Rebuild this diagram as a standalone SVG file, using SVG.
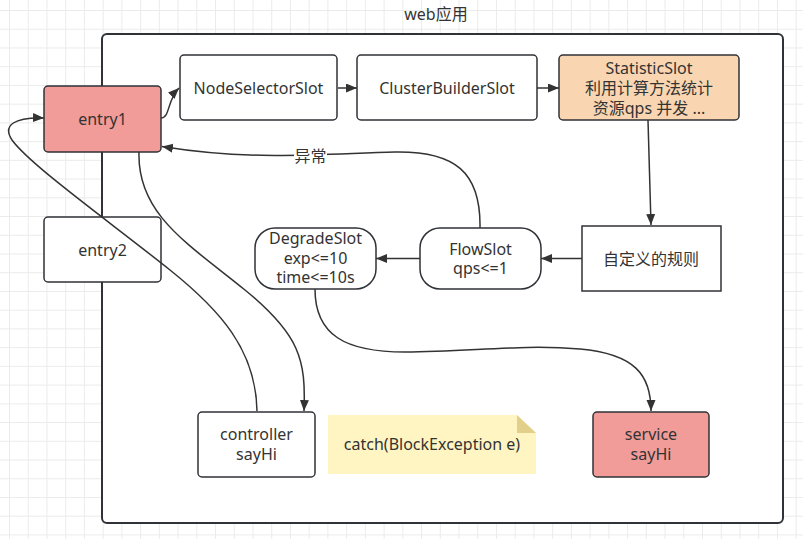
<svg xmlns="http://www.w3.org/2000/svg" width="803" height="539" viewBox="0 0 803 539">
  <defs>
    <pattern id="grid" x="9" y="10" width="18.73" height="18.73" patternUnits="userSpaceOnUse">
      <path d="M0.5,0 V18.73 M0,0.5 H18.73" stroke="#ebebeb" stroke-width="1" fill="none"/>
    </pattern>
    <marker id="arr" markerUnits="userSpaceOnUse" markerWidth="12" markerHeight="10" refX="11" refY="4.5" orient="auto">
      <path d="M0,0 L11,4.5 L0,9 Z" fill="#333"/>
    </marker>
    <style>
      .box { stroke: #2f3237; stroke-width: 1.5; }
      .plain { fill: #ffffff; }
      .red { fill: #f19c99; }
      .peach { fill: #f9d6b1; }
      .lbl { font-family: "Noto Sans", "Noto Sans CJK SC", sans-serif; font-size: 16px; fill: #333; text-anchor: middle; }
      .edge { fill: none; stroke: #333; stroke-width: 1.5; marker-end: url(#arr); }
    </style>
  </defs>

  <!-- canvas background with grid -->
  <rect width="803" height="539" fill="#ffffff"/>
  <rect width="803" height="539" fill="url(#grid)"/>

  <!-- web application container -->
  <g id="container">
    <rect x="102" y="34" width="681" height="489" rx="5" fill="#ffffff" stroke="#2f3237" stroke-width="2"/>
    <text class="lbl" x="436" y="19.5">web应用</text>
  </g>

  <g id="entry2">
    <rect class="box plain" x="44" y="217" width="117" height="65" rx="4"/>
    <text class="lbl" x="102.5" y="255.5">entry2</text>
  </g>

  <g id="entry1">
    <rect class="box red" x="44" y="86" width="117" height="66" rx="4"/>
    <text class="lbl" x="102.5" y="124.5">entry1</text>
  </g>

  <g id="nodeSelectorSlot">
    <rect class="box plain" x="180" y="55" width="157" height="65" rx="4"/>
    <text class="lbl" x="258.5" y="93.5">NodeSelectorSlot</text>
  </g>

  <g id="clusterBuilderSlot">
    <rect class="box plain" x="357" y="55" width="180" height="65" rx="4"/>
    <text class="lbl" x="447" y="93.5">ClusterBuilderSlot</text>
  </g>

  <g id="statisticSlot">
    <rect class="box peach" x="559" y="55" width="180" height="65" rx="4"/>
    <text class="lbl" x="649" y="73.5">StatisticSlot</text>
    <text class="lbl" x="649" y="93.5">利用计算方法统计</text>
    <text class="lbl" x="649" y="113.5">资源qps 并发 ...</text>
  </g>

  <g id="customRules">
    <rect class="box plain" x="582" y="226" width="139" height="65"/>
    <text class="lbl" x="651" y="264.5">自定义的规则</text>
  </g>

  <g id="flowSlot">
    <rect class="box plain" x="420" y="228" width="121" height="61" rx="20" ry="20"/>
    <text class="lbl" x="480.5" y="254.5">FlowSlot</text>
    <text class="lbl" x="480.5" y="274">qps&lt;=1</text>
  </g>

  <g id="degradeSlot">
    <rect class="box plain" x="255" y="228" width="121" height="61" rx="20" ry="20"/>
    <text class="lbl" x="315.5" y="244">DegradeSlot</text>
    <text class="lbl" x="315.5" y="263.5">exp&lt;=10</text>
    <text class="lbl" x="315.5" y="283">time&lt;=10s</text>
  </g>

  <g id="controllerSayHi">
    <rect class="box plain" x="198" y="412" width="117" height="65" rx="4"/>
    <text class="lbl" x="256.5" y="440">controller</text>
    <text class="lbl" x="256.5" y="460">sayHi</text>
  </g>

  <g id="catchNote">
    <path d="M328,415 H517 L536,433 V474 H328 Z" fill="#fff5c2"/>
    <path d="M517,415 L536,433 H517 Z" fill="#e2d08a"/>
    <text class="lbl" x="432" y="450">catch(BlockException e)</text>
  </g>

  <g id="serviceSayHi">
    <rect class="box red" x="593" y="412" width="116" height="65" rx="4"/>
    <text class="lbl" x="651" y="440">service</text>
    <text class="lbl" x="651" y="460">sayHi</text>
  </g>

  <g id="connectors">
    <path class="edge" d="M161,118 C170,118 167,100 179,88"/>
    <path class="edge" d="M338,88 L357,88"/>
    <path class="edge" d="M537,88 L559,88"/>
    <path class="edge" d="M648,120 L651,225"/>
    <path class="edge" d="M582,258.5 L541,258.5"/>
    <path class="edge" d="M420,258.5 L376,258.5"/>
    <path class="edge" d="M480,228 C481,172 455,151 395,152 C320,154 250,161 162,146.5"/>
    <path class="edge" d="M315,289 C315,335 345,352 405,352 C470,352 520,344 580,349 C635,354 651,375 651,411"/>
    <path class="edge" d="M139,152 C137,215 190,245 245,290 C300,335 306,360 304,411"/>
    <path class="edge" d="M257,411 C256,350 220,310 170,270 C110,222 30,165 12,140 C2,125 15,117 44,118"/>
    <!-- edge label on the exception path -->
    <rect x="294" y="147" width="33" height="19" fill="#ffffff"/>
    <text class="lbl" x="310.5" y="161.5">异常</text>
  </g>
</svg>
